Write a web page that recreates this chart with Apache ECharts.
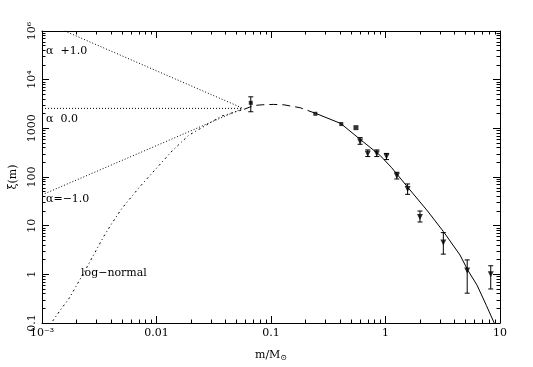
<!DOCTYPE html>
<html><head><meta charset="utf-8">
<script src="https://cdn.jsdelivr.net/npm/echarts@6/dist/echarts.min.js"></script>
<style>html,body{margin:0;padding:0;background:#fff}#c{width:533px;height:367px}</style>
</head><body><div id="c"></div>
<script>
// ---- tick labels ----
const xMajorTicks = [0.001, 0.01, 0.1, 1, 10];
const xTickLabels = ['10\u207B\u00B3', '0.01', '0.1', '1', '10'];
const yMajorTicks = [0.1, 1, 10, 100, 1000, 10000, 100000];
const yTickLabels = ['0.1', '1', '10', '100', '1000', '10\u2074', '10\u2076'];

// ---- observed points (mass, xi, error low, error high, marker) ----
const massObs = [0.0666, 0.244, 0.411, 0.552, 0.60, 0.70, 0.839, 1.02, 1.256, 1.56, 2.0, 3.2, 5.17, 8.3];
const xiObs   = [3340, 1990, 1225, 1033, 536, 300, 305, 265, 106, 57, 15, 4.5, 1.2, 1.0];
const xiLow   = [2190, null, null, null, 470, 263, 263, 228, 91, 44, 11.9, 2.6, 0.41, 0.5];
const xiHigh  = [4440, null, null, null, 645, 360, 360, 305, 125, 72, 20, 7.2, 1.98, 1.5];
const obsMarker = ['square','square','square','bigsquare','tri','tri','tri','tri','tri','tri','tri','tri','tri','tri'];

// ---- log-normal curve ----
const lognormalLeft = [[0.00124,0.11],[0.00146,0.19],[0.00174,0.33],[0.00233,1.1],[0.00346,6],[0.00406,11],[0.00494,22],[0.0071,62],[0.00986,146],[0.0137,344],[0.0191,720],[0.0264,1115],[0.0368,1780],[0.0582,2460]];
const lognormalMid  = [[0.0582,2460],[0.0708,2950],[0.085,3050],[0.105,3100],[0.13,3040],[0.18,2650],[0.247,2020]];
const lognormalRight= [[0.247,2020],[0.406,1260],[0.597,600],[0.891,282],[1.125,158],[1.56,62],[2.33,20],[3.2,7.6],[4.47,2.5],[5.25,1.2],[6.3,0.6],[7.6,0.23],[8.9,0.1]];

// ---- power-law extensions below the break ----
const alphaPlus1  = [[0.00158,100000],[0.057,2570]];
const alphaZero   = [[0.001,2570],[0.057,2570]];
const alphaMinus1 = [[0.001,43],[0.057,2570]];

function minorOf(majors){
  const out=[];
  for(let i=0;i<majors.length-1;i++) for(let k=2;k<=9;k++) out.push(+(majors[i]*k).toPrecision(6));
  return out;
}
const xMinor = minorOf(xMajorTicks), yMinor = minorOf(yMajorTicks);

function labelFor(ticks, labels){
  return function(v){
    let best=0, bd=1e9;
    ticks.forEach((t,i)=>{const d=Math.abs(Math.log10(t)-Math.log10(v)); if(d<bd){bd=d;best=i;}});
    return bd<0.01 ? labels[best] : '';
  };
}
const FONT = 'DejaVu Serif';
const black = '#000';
function xAx(pos, ticks, len, showLine, labels){
  const tick = {show:true, inside:true, length:len, lineStyle:{color:black,width:1}};
  if (ticks) tick.customValues = ticks;
  return {type:'log', logBase:10, min:0.001, max:10, position:pos, gridIndex:0,
    axisLine:{show:showLine, lineStyle:{color:black,width:1}},
    axisTick:tick,
    axisLabel:labels ? {show:true, formatter:labelFor(xMajorTicks,xTickLabels), color:black, fontSize:11, fontFamily:FONT, margin:5} : {show:false},
    splitLine:{show:false}, minorTick:{show:false}};
}
function yAx(pos, ticks, len, showLine){
  const tick = {show:true, inside:true, length:len, lineStyle:{color:black,width:1}};
  if (ticks) tick.customValues = ticks;
  return {type:'log', logBase:10, min:0.1, max:100000, position:pos, gridIndex:0,
    axisLine:{show:showLine, lineStyle:{color:black,width:1}},
    axisTick:tick,
    axisLabel:{show:false},
    splitLine:{show:false}, minorTick:{show:false}};
}
const xMain = xAx('bottom', null, 7, true, true);
xMain.name = '{a|m/M}{s|\u2299}';
xMain.nameLocation = 'middle';
xMain.nameGap = 25;
xMain.nameTextStyle = {color:black, rich:{a:{fontFamily:FONT,fontSize:11,color:black}, s:{fontFamily:FONT,fontSize:8,color:black,padding:[6,0,0,0]}}};
const yMain = yAx('left', null, 7, true);
yMain.name = '\u03BE(m)';
yMain.nameLocation = 'middle';
yMain.nameGap = 23;
yMain.nameRotate = 90;
yMain.nameTextStyle = {color:black, fontFamily:FONT, fontSize:11};

const lineBase = {type:'line', xAxisIndex:0, yAxisIndex:0, showSymbol:false, symbol:'none', silent:true, animation:false};
const series = [
  Object.assign({}, lineBase, {data:alphaPlus1, lineStyle:{color:black,width:1,type:[1,2]}}),
  Object.assign({}, lineBase, {data:alphaZero, lineStyle:{color:black,width:1,type:[1,2]}}),
  Object.assign({}, lineBase, {data:alphaMinus1, lineStyle:{color:black,width:1,type:[1,2]}}),
  Object.assign({}, lineBase, {data:lognormalLeft, lineStyle:{color:black,width:1,type:[2,3,1,3]}}),
  Object.assign({}, lineBase, {data:lognormalMid, lineStyle:{color:black,width:1,type:[8,5]}}),
  Object.assign({}, lineBase, {data:lognormalRight, lineStyle:{color:black,width:1,type:'solid'}}),
  {type:'custom', xAxisIndex:0, yAxisIndex:0, animation:false, silent:true,
   data: massObs.map((m,i)=>[m, xiLow[i]==null?xiObs[i]:xiLow[i], xiHigh[i]==null?xiObs[i]:xiHigh[i]]),
   renderItem:function(params, api){
     const x=api.value(0), lo=api.coord([x, api.value(1)]), hi=api.coord([x, api.value(2)]);
     if (Math.abs(lo[1]-hi[1])<1) return {type:'group', children:[]};
     const w=2.5, st={stroke:black, lineWidth:1};
     return {type:'group', children:[
       {type:'line', shape:{x1:lo[0],y1:lo[1],x2:hi[0],y2:hi[1]}, style:st},
       {type:'line', shape:{x1:lo[0]-w,y1:lo[1],x2:lo[0]+w,y2:lo[1]}, style:st},
       {type:'line', shape:{x1:hi[0]-w,y1:hi[1],x2:hi[0]+w,y2:hi[1]}, style:st}
     ]};
   }},
  {type:'scatter', xAxisIndex:0, yAxisIndex:0, animation:false, silent:true,
   data: massObs.map((m,i)=>({value:[m, xiObs[i]],
     symbol: obsMarker[i]==='tri' ? 'triangle' : 'rect',
     symbolSize: obsMarker[i]==='tri' ? 6 : (obsMarker[i]==='bigsquare' ? 5 : 4),
     symbolRotate: obsMarker[i]==='tri' ? 180 : 0})),
   itemStyle:{color:black}}
];

const chart = echarts.init(document.getElementById('c'), null, {renderer:'canvas'});
const annotations = [
  {type:'text', left:46, top:46, style:{text:'\u03B1  +1.0', fill:black, font:'11px "'+FONT+'"'}},
  {type:'text', left:46, top:114, style:{text:'\u03B1  0.0', fill:black, font:'11px "'+FONT+'"'}},
  {type:'text', left:46, top:194, style:{text:'\u03B1=\u22121.0', fill:black, font:'11px "'+FONT+'"'}},
  {type:'text', left:81, top:268, style:{text:'log\u2212normal', fill:black, font:'11px "'+FONT+'"'}}
];
chart.setOption({
  animation:false,
  backgroundColor:'#fff',
  grid:{left:35, right:33, top:31, bottom:42, containLabel:false},
  xAxis:[xMain, xAx('bottom', xMinor, 3.5, false, false), xAx('top', null, 7, true, false), xAx('top', xMinor, 3.5, false, false)],
  yAxis:[yMain, yAx('left', yMinor, 3.5, false), yAx('right', null, 7, true), yAx('right', yMinor, 3.5, false)],
  series: series,
  graphic: annotations
});
// rotated y tick labels, placed through the y axis scale
const axisX = chart.convertToPixel({xAxisIndex:0}, xMajorTicks[0]);
const yLabelEls = yMajorTicks.map((v,i)=>({
  type:'text', x: axisX - 4, y: chart.convertToPixel({yAxisIndex:0}, v), rotation: Math.PI/2,
  style:{text:yTickLabels[i], fill:black, font:'11px "'+FONT+'"', align:'center', verticalAlign:'bottom'}
}));
chart.setOption({graphic: annotations.concat(yLabelEls)}, {replaceMerge:['graphic']});
</script>
</body></html>
